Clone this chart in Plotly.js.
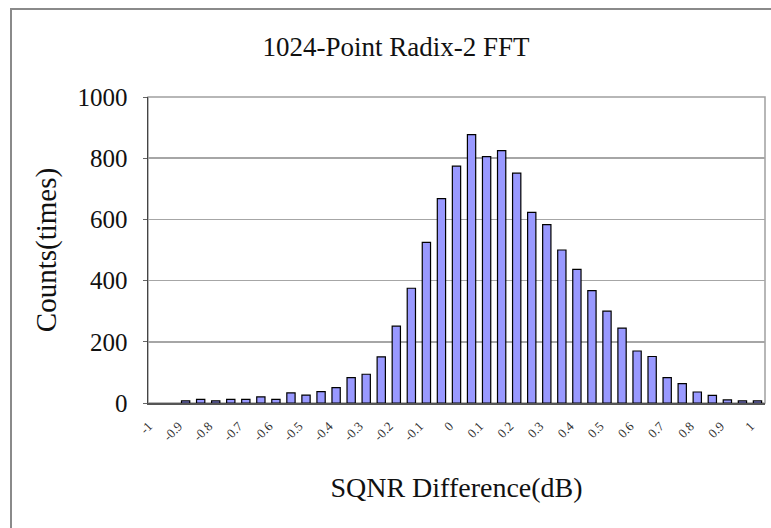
<!DOCTYPE html>
<html>
<head>
<meta charset="utf-8">
<script src="https://cdn.plot.ly/plotly-3.0.1.min.js"></script>
<style>
  html, body { margin: 0; padding: 0; background: #fff; }
  #wrap { position: relative; width: 771px; height: 528px; overflow: hidden; }
  #chart { width: 771px; height: 528px; }
  #frame { position: absolute; left: 10px; top: 8px; width: 800px; height: 600px;
           border-left: 2px solid #8a8a8a; border-top: 2px solid #8a8a8a; pointer-events: none; }
</style>
</head>
<body>
<div id="wrap">
  <div id="chart"></div>
  <div id="frame"></div>
</div>
<script>
// Bin centres (SQNR difference, dB)
const bins = [-1, -0.95, -0.9, -0.85, -0.8, -0.75, -0.7, -0.65, -0.6, -0.55,
              -0.5, -0.45, -0.4, -0.35, -0.3, -0.25, -0.2, -0.15, -0.1, -0.05,
              0, 0.05, 0.1, 0.15, 0.2, 0.25, 0.3, 0.35, 0.4, 0.45,
              0.5, 0.55, 0.6, 0.65, 0.7, 0.75, 0.8, 0.85, 0.9, 0.95, 1];
// Counts (times)
const counts = [0, 0, 7, 12, 7, 12, 12, 20, 12, 33,
                26, 37, 50, 83, 94, 151, 251, 375, 525, 668,
                774, 877, 805, 825, 751, 623, 583, 500, 437, 367,
                300, 245, 170, 152, 83, 63, 36, 25, 10, 7, 7];
// X tick values and labels
const xTickVals = [-1, -0.9, -0.8, -0.7, -0.6, -0.5, -0.4, -0.3, -0.2, -0.1,
                   0, 0.1, 0.2, 0.3, 0.4, 0.5, 0.6, 0.7, 0.8, 0.9, 1];
const xTickText = ["-1", "-0.9", "-0.8", "-0.7", "-0.6", "-0.5", "-0.4", "-0.3", "-0.2", "-0.1",
                   "0", "0.1", "0.2", "0.3", "0.4", "0.5", "0.6", "0.7", "0.8", "0.9", "1"];
const yTickVals = [0, 200, 400, 600, 800, 1000];

const serif = "Liberation Serif, Times New Roman, serif";

const trace = {
  type: "bar",
  x: bins,
  y: counts,
  marker: {
    color: "#9999ff",
    line: { color: "#000000", width: counts.map(v => (v > 0 ? 1.2 : 0)) }
  },
  hoverinfo: "x+y"
};

const layout = {
  width: 771,
  height: 528,
  margin: { l: 148, r: 6, t: 97, b: 125 },
  paper_bgcolor: "#ffffff",
  plot_bgcolor: "#ffffff",
  bargap: 0.45,
  showlegend: false,
  title: {
    text: "1024-Point Radix-2 FFT",
    font: { family: serif, size: 27, color: "#111111" },
    xref: "container", x: 0.5136,
    yref: "container", y: 0.912, yanchor: "middle"
  },
  xaxis: {
    range: [-1.025, 1.025],
    tickmode: "array",
    tickvals: xTickVals,
    ticktext: xTickText,
    tickangle: -45,
    tickfont: { family: serif, size: 13, color: "#333333" },
    ticks: "",
    ticklabelstandoff: 9,
    ticklabelshift: -7,
    showgrid: false,
    zeroline: false,
    showline: true,
    linecolor: "#555555",
    linewidth: 1.5,
    title: {
      text: "SQNR Difference(dB)",
      font: { family: serif, size: 28, color: "#111111" },
      standoff: 34
    }
  },
  yaxis: {
    range: [0, 1000],
    tickmode: "array",
    tickvals: yTickVals,
    tickfont: { family: serif, size: 25, color: "#111111" },
    ticks: "outside",
    ticklen: 4,
    tickcolor: "#666666",
    ticklabelstandoff: 10,
    showgrid: true,
    gridcolor: "#a6a6a6",
    gridwidth: 1.5,
    zeroline: false,
    showline: true,
    linecolor: "#444444",
    linewidth: 1.5,
    title: {
      text: "Counts(times)",
      font: { family: serif, size: 29, color: "#111111" },
      standoff: 12
    }
  },
  shapes: [
    { type: "rect", xref: "paper", yref: "paper", x0: 0, x1: 1, y0: 0, y1: 1,
      line: { color: "#a0a0a0", width: 1.5 }, layer: "below" }
  ]
};

Plotly.newPlot("chart", [trace], layout, { displayModeBar: false, staticPlot: true });
</script>
</body>
</html>
